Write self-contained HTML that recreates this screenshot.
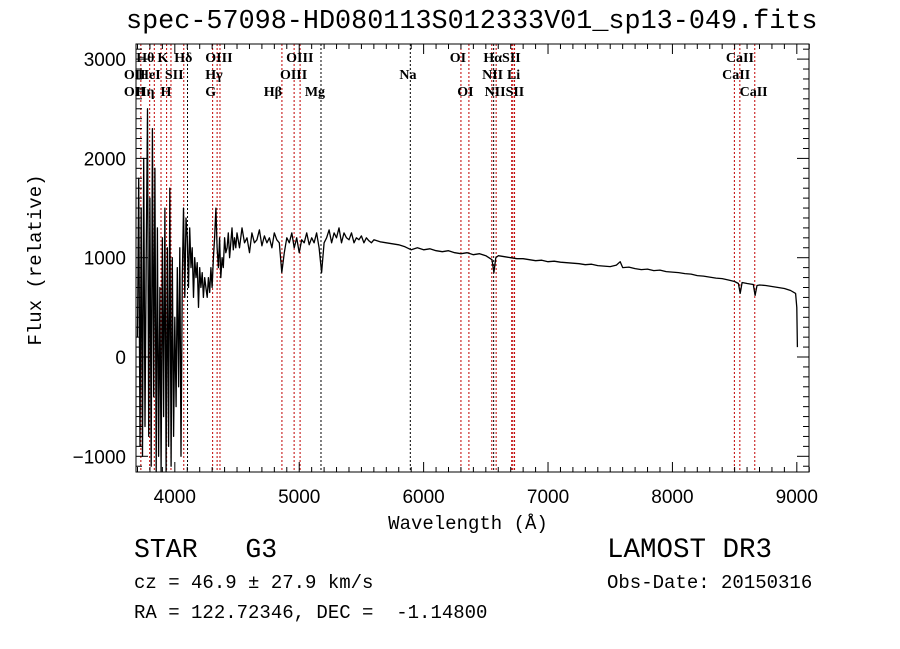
<!DOCTYPE html>
<html><head><meta charset="utf-8"><style>
body{margin:0;background:#fff;}
#c{position:relative;width:900px;height:649px;overflow:hidden;background:#fff;}
.t{position:absolute;font-family:"Liberation Mono",monospace;color:#000;white-space:pre;}
</style></head><body>
<div id="c">
<svg id="s" width="900" height="649" style="position:absolute;left:0;top:0"></svg>
<div class="t" style="left:126px;top:7px;font-size:26.8px;">spec-57098-HD080113S012333V01_sp13-049.fits</div>
<div class="t" style="left:134px;top:535px;font-size:26.5px;">STAR   G3</div>
<div class="t" style="left:607px;top:535px;font-size:27.5px;">LAMOST DR3</div>
<div class="t" style="left:134px;top:572px;font-size:19px;">cz = 46.9 ± 27.9 km/s</div>
<div class="t" style="left:607px;top:572px;font-size:19px;">Obs-Date: 20150316</div>
<div class="t" style="left:134px;top:602px;font-size:19px;">RA = 122.72346, DEC =  -1.14800</div>
</div>
<script>
const lineWaves=[3727,3798,3835,3889,3934,3969,4072,4102,4304,4340,4363,4861,4959,5007,5175,5893,6300,6364,6548,6563,6583,6708,6717,6731,8498,8542,8662];
const lineBlack=[5175,5893,4102,6563];
const labelText=["Hθ","K","Hδ","OIII","OIII","OI","HαSII","CaII","OII","HeI","SII","Hγ","OIII","Na","NII","Li","CaII","OII","Hη","H","G","Hβ","Mg","OI","NIISII","CaII"];
const labelWave=[3690,3860,3995,4245,4895,6210,6480,8430,3590,3705,3920,4245,4845,5805,6470,6670,8400,3590,3685,3885,4245,4715,5045,6270,6490,8540];
const labelRow=[0,0,0,0,0,0,0,0,1,1,1,1,1,1,1,1,1,2,2,2,2,2,2,2,2,2];
const xTicks=[4000,5000,6000,7000,8000,9000];
const yTicks=[-1000,0,1000,2000,3000];
const yTickLabels=["−1000","0","1000","2000","3000"];
const waves=[3700,3710,3720,3730,3740,3750,3760,3770,3780,3790,3800,3810,3820,3830,3840,3850,3860,3870,3880,3890,3900,3910,3920,3930,3940,3950,3960,3970,3980,3990,4000,4010,4020,4030,4040,4050,4060,4070,4080,4090,4100,4110,4120,4130,4140,4150,4160,4170,4180,4190,4200,4210,4220,4230,4240,4250,4260,4270,4280,4290,4300,4310,4320,4330,4340,4350,4360,4370,4380,4390,4400,4410,4420,4430,4440,4450,4460,4470,4480,4490,
4500,4520,4540,4560,4580,4600,4620,4640,4660,4680,4700,4720,4740,4760,4780,4800,4820,4840,4860,4880,4900,4920,4940,4960,4980,5000,5020,5040,5060,5080,5100,5120,5140,5160,5180,5200,5220,5240,5260,5280,5300,5320,5340,5360,5380,5400,5420,5440,5460,5480,5500,5520,5540,5560,5580,5600,
5650,5700,5750,5800,5850,5900,5950,6000,6050,6100,6150,6200,6250,6300,6350,6400,6450,6500,6550,6565,6580,6600,6650,6700,6750,6800,6850,6900,6950,7000,7050,7100,7150,7200,7250,7300,7350,7400,7450,7500,7550,7580,7600,7650,7700,7750,7800,7850,7900,7950,8000,8050,8100,8150,8200,8250,8300,8350,8400,8450,8500,8530,8545,8560,8600,8650,8665,8680,8700,8750,8800,8850,8900,8950,8990,9000,9005];
const flux=[200,1800,-900,1500,-1000,2000,-700,1000,2500,-800,1600,-1100,2300,-400,1900,-1150,1300,-1000,700,-1150,1200,-600,1500,-1150,1100,-900,1700,-1100,1000,-800,400,-500,900,-300,1100,-1000,800,1500,600,1400,1200,700,1300,900,1100,600,1000,800,950,500,900,700,850,600,800,700,600,800,650,900,700,1000,1200,1500,1100,900,1200,800,1000,900,1200,1050,1100,1250,1000,1150,1300,1080,1200,1100,
1250,1100,1300,1150,1200,1050,1250,1150,1180,1280,1120,1220,1150,1200,1100,1250,1180,1150,850,1050,1200,1150,1250,1100,1200,1050,1180,1150,1250,1130,1200,1150,1250,1100,850,1150,1200,1280,1150,1250,1200,1300,1150,1250,1200,1180,1250,1150,1200,1180,1220,1150,1200,1170,1150,1180,
1160,1150,1140,1130,1110,1080,1100,1080,1090,1070,1060,1070,1050,1040,1050,1030,1040,1020,980,850,1000,1020,1010,1000,990,990,980,970,975,960,965,955,950,945,940,930,935,920,915,910,925,960,900,905,890,880,885,870,875,860,855,850,840,835,820,815,805,795,790,775,760,740,640,750,740,730,620,720,725,720,710,700,690,670,640,500,100];

const NS="http://www.w3.org/2000/svg";
const svg=document.getElementById('s');
const L=137.5,R=809,T=44,B=472;
const xs=w=>L+(w-3700)*0.1244;
const ys=v=>357-v*0.0993;
function mk(tag,attrs){const e=document.createElementNS(NS,tag);for(const k in attrs)e.setAttribute(k,attrs[k]);svg.appendChild(e);return e;}
lineWaves.forEach(w=>{
  const e=mk('line',{x1:xs(w),x2:xs(w),y1:T,y2:B,stroke:lineBlack.includes(w)?'#000':'#c00000','stroke-width':1,'stroke-dasharray':'2,2'});
  
  
});
labelText.forEach((t,i)=>{
  const e=mk('text',{x:xs(labelWave[i]),y:62+labelRow[i]*17,'font-family':'Liberation Serif, serif','font-size':14,'font-weight':'bold'});
  e.textContent=t;
  
  
});
let d='';waves.forEach((w,i)=>{d+=(i?'L':'M')+xs(w).toFixed(1)+','+ys(flux[i]).toFixed(1);});
const p=mk('path',{d:d,fill:'none',stroke:'#000','stroke-width':1.3,'stroke-linejoin':'round'});


const f=mk('rect',{x:L-1.5,y:T,width:R-L+1.5,height:B-T,fill:'none',stroke:'#000','stroke-width':1});


for(let w=3700;w<=9100;w+=100){const maj=w%1000===0;const len=maj?10:5;
  mk('line',{x1:xs(w),x2:xs(w),y1:B,y2:B-len,stroke:'#000'});
  mk('line',{x1:xs(w),x2:xs(w),y1:T,y2:T+len,stroke:'#000'});}
xTicks.forEach(w=>{const e=mk('text',{x:xs(w),y:503,'text-anchor':'middle','font-family':'Liberation Sans, sans-serif','font-size':19});e.textContent=w;
  
  });
for(let v=-1100;v<=3100;v+=100){const maj=v%1000===0;const len=maj?12:6;
  mk('line',{x1:L-1.5,x2:L-1.5+len,y1:ys(v),y2:ys(v),stroke:'#000'});
  mk('line',{x1:R,x2:R-len,y1:ys(v),y2:ys(v),stroke:'#000'});}
yTicks.forEach((v,i)=>{const e=mk('text',{x:126,y:ys(v)+7,'text-anchor':'end','font-family':'Liberation Sans, sans-serif','font-size':19});e.textContent=yTickLabels[i];
  
  });
const xl=mk('text',{x:468,y:529,'text-anchor':'middle','font-family':'Liberation Mono, monospace','font-size':19});xl.textContent='Wavelength (Å)';


const yl=mk('text',{x:0,y:0,'text-anchor':'middle','font-family':'Liberation Mono, monospace','font-size':19,transform:'translate(41,260) rotate(-90)'});yl.textContent='Flux (relative)';


</script>
</body></html>
